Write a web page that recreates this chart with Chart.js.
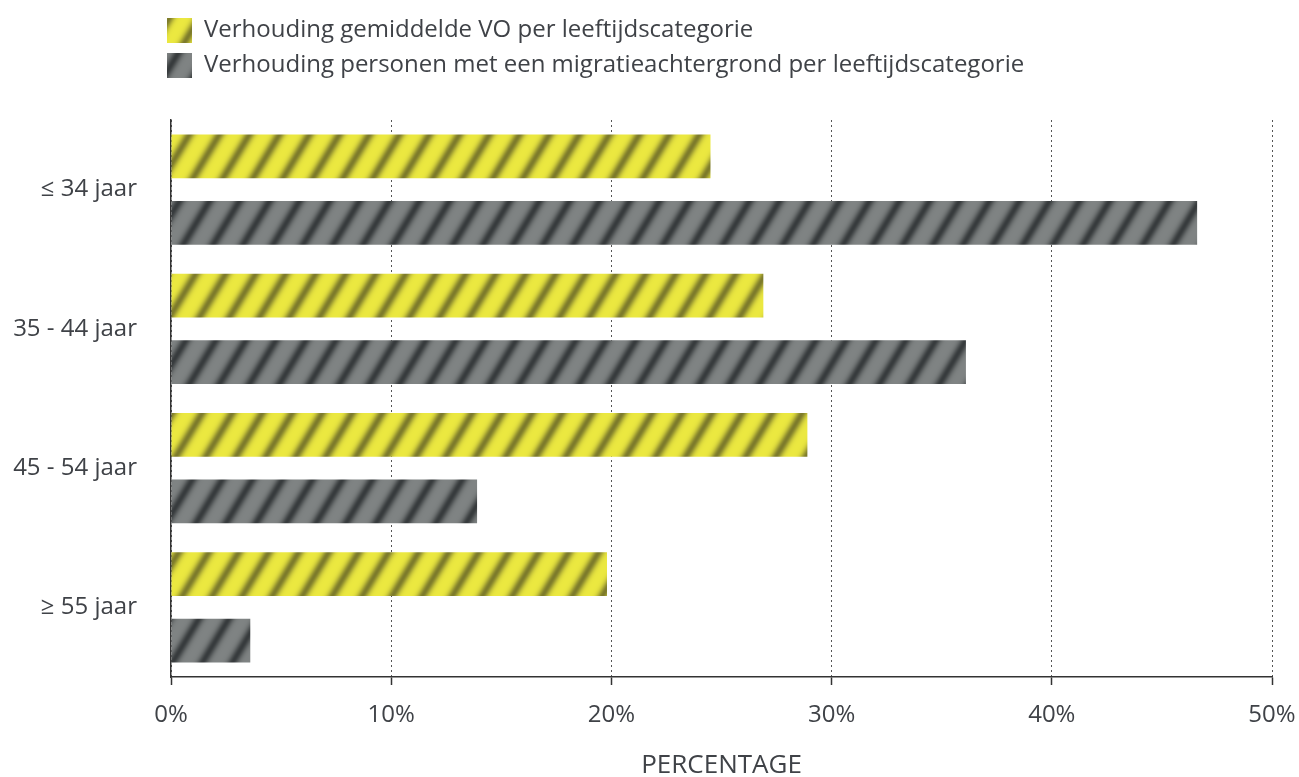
<!DOCTYPE html>
<html>
<head>
<meta charset="utf-8">
<script src="https://cdn.jsdelivr.net/npm/chart.js@4/dist/chart.umd.min.js"></script>
<style>
  html, body { margin: 0; padding: 0; background: #fff; }
  #wrap { width: 1299px; height: 777px; position: relative; }
</style>
</head>
<body>
<div id="wrap"><canvas id="ageChart"></canvas></div>
<script>
const categories = ['≤ 34 jaar', '35 - 44 jaar', '45 - 54 jaar', '≥ 55 jaar'];
const seriesNames = [
    'Verhouding gemiddelde VO per leeftijdscategorie',
    'Verhouding personen met een migratieachtergrond per leeftijdscategorie'
];
const voShare = [24.5, 26.9, 28.9, 19.8];
const migrationShare = [46.6, 36.1, 13.9, 3.6];
const xTickValues = [0, 10, 20, 30, 40, 50];

const textColor = '#3f4247';
Chart.defaults.font.family = "'Open Sans', 'Noto Sans', sans-serif";
Chart.defaults.color = textColor;

// Soft diagonal hatching used for the bars and legend boxes
function hatch(base, stripe) {
    const w = 30, h = 50;
    const tile = document.createElement('canvas');
    tile.width = w;
    tile.height = h;
    const c = tile.getContext('2d');
    const img = c.createImageData(w, h);
    for (let y = 0; y < h; y++) {
        for (let x = 0; x < w; x++) {
            // stripes run along x + 0.6y = const, one every 30px
            const u = ((x + 0.5 + 0.6 * (y + 0.5)) % w + w) % w;
            const d = Math.min(u, w - u);
            const a = 0.88 * Math.exp(-(d * d) / (2 * 4 * 4));
            const i = (y * w + x) * 4;
            for (let k = 0; k < 3; k++) {
                img.data[i + k] = Math.round(base[k] * (1 - a) + stripe[k] * a);
            }
            img.data[i + 3] = 255;
        }
    }
    c.putImageData(img, 0, 0);
    return c.createPattern(tile, 'repeat');
}

const yellowHatch = hatch([235, 232, 64], [110, 108, 40]);
const greyHatch = hatch([127, 131, 131], [45, 49, 51]);

// fixed legend block height so the plot starts at the same place
const legendBlock = {
    id: 'legendBlock',
    beforeInit(chart) {
        const fit = chart.legend.fit;
        chart.legend.fit = function () {
            fit.call(this);
            this.height = 112;
        };
    },
    afterLayout(chart) {
        chart.legend.left = 157;
    }
};

new Chart(document.getElementById('ageChart'), {
    type: 'bar',
    data: {
        labels: categories,
        datasets: [{
            label: seriesNames[0],
            data: voShare,
            backgroundColor: yellowHatch,
            borderWidth: 0,
            categoryPercentage: 0.955,
            barPercentage: 0.66
        }, {
            label: seriesNames[1],
            data: migrationShare,
            backgroundColor: greyHatch,
            borderWidth: 0,
            categoryPercentage: 0.955,
            barPercentage: 0.66
        }]
    },
    options: {
        indexAxis: 'y',
        responsive: true,
        maintainAspectRatio: false,
        animation: false,
        layout: { padding: { top: 8, right: 27, left: 0, bottom: 0 } },
        plugins: {
            tooltip: { enabled: false },
            legend: {
                position: 'top',
                align: 'start',
                labels: {
                    boxWidth: 25,
                    boxHeight: 25,
                    padding: 10,
                    font: { size: 24 },
                    color: textColor
                }
            }
        },
        scales: {
            x: {
                min: 0,
                max: 50,
                afterBuildTicks: scale => {
                    scale.ticks = xTickValues.map(v => ({ value: v }));
                },
                afterFit: scale => {
                    scale.height = 100;
                    scale.paddingLeft = 0;
                    scale.paddingRight = 0;
                },
                ticks: {
                    callback: v => v + '%',
                    font: { size: 24 },
                    color: textColor,
                    padding: 16
                },
                grid: {
                    color: '#555',
                    lineWidth: 1,
                    tickLength: 8,
                    tickColor: '#333',
                    tickWidth: 1.5,
                    tickBorderDash: []
                },
                border: { display: true, color: '#333', width: 1.5, dash: [2, 3] },
                title: {
                    display: true,
                    text: 'PERCENTAGE',
                    font: { size: 26, lineHeight: 1 },
                    color: textColor,
                    padding: { top: 0, bottom: -2 }
                }
            },
            y: {
                afterFit: scale => { scale.width = 171; },
                ticks: {
                    font: { size: 24 },
                    color: textColor,
                    padding: 34
                },
                grid: { drawOnChartArea: false, drawTicks: false },
                border: { display: true, color: '#333', width: 1.5 }
            }
        }
    },
    plugins: [legendBlock]
});
</script>
</body>
</html>
